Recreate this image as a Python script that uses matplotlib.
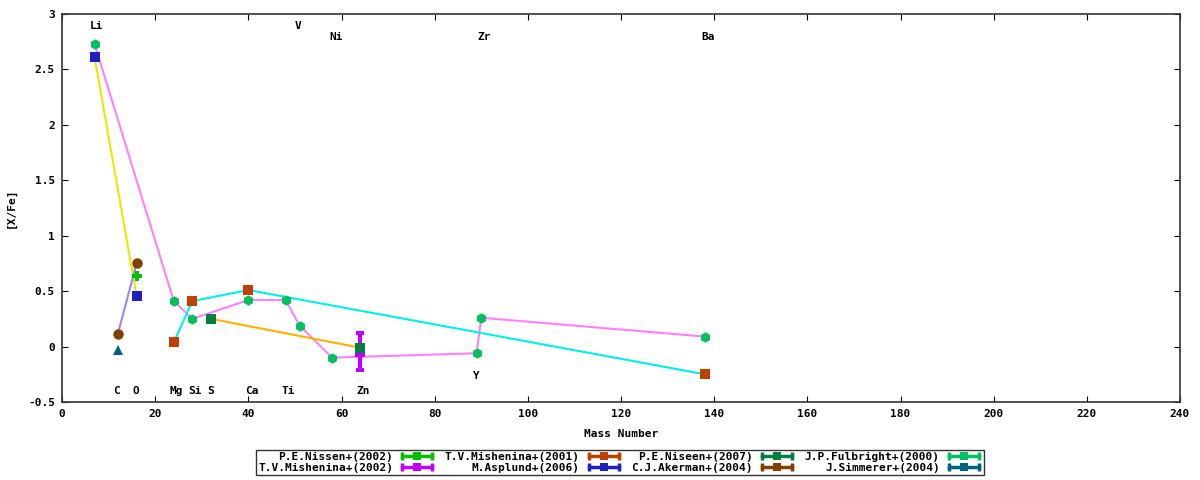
import matplotlib
matplotlib.use("Agg")
import matplotlib.pyplot as plt
from matplotlib.lines import Line2D
from matplotlib.legend_handler import HandlerLine2D, HandlerTuple

# [X/Fe] against mass number, one block per source
nissen02_mass = [16]
nissen02_xfe = [0.64]

mishenina01_mass = [24, 28, 40, 138]
mishenina01_xfe = [0.04, 0.41, 0.51, -0.25]

nissen07_mass = [32, 64]
nissen07_xfe = [0.25, -0.01]

fulbright_mass = [7, 24, 28, 40, 48, 51, 58, 89, 90, 138]
fulbright_xfe = [2.73, 0.41, 0.25, 0.42, 0.42, 0.19, -0.10, -0.06, 0.26, 0.09]

mishenina02_mass = [64]
mishenina02_xfe = [-0.045]
mishenina02_err = [0.165]

asplund_mass = [7, 16]
asplund_xfe = [2.61, 0.46]

akerman_mass = [12, 16]
akerman_xfe = [0.115, 0.75]

simmerer_mass = [12]
simmerer_xfe = [-0.03]

# element names written on the plot
elements = ["Li", "V", "Ni", "Zr", "Ba", "C", "O", "Mg", "Si", "S", "Ca", "Ti", "Zn", "Y"]
elem_x = [7.5, 50.7, 58.8, 90.6, 138.7, 11.8, 15.9, 24.5, 28.5, 32, 40.8, 48.5, 64.6, 88.9]
elem_y = [2.89, 2.89, 2.79, 2.79, 2.79, -0.40, -0.40, -0.40, -0.40, -0.40, -0.40, -0.40, -0.40, -0.265]

font = dict(family="DejaVu Sans Mono", weight="bold", size=8)
plt.rcParams["font.family"] = "DejaVu Sans Mono"
plt.rcParams["font.weight"] = "bold"

fig = plt.figure(figsize=(12, 4.8), dpi=100)
ax = fig.add_axes([62 / 1200, 78 / 480, 1118 / 1200, 388 / 480])

# connecting lines (drawn in their own colours, under the points)
ax.plot(fulbright_mass, fulbright_xfe, color="#ff80ff", lw=1.5, zorder=2)
ax.plot(mishenina01_mass, mishenina01_xfe, color="#00eeee", lw=1.5, zorder=2)
ax.plot(nissen07_mass, nissen07_xfe, color="#ffb000", lw=1.5, zorder=2)
ax.plot(asplund_mass, asplund_xfe, color="#e8e800", lw=1.5, zorder=2)
ax.plot(akerman_mass, akerman_xfe, color="#a080ff", lw=1.5, zorder=2)

ms = 7.5
series = [
    ("P.E.Nissen+(2002)", nissen02_mass, nissen02_xfe, "#00c000", "P", 7),
    ("T.V.Mishenina+(2002)", mishenina02_mass, mishenina02_xfe, "#c000ff", "s", ms),
    ("T.V.Mishenina+(2001)", mishenina01_mass, mishenina01_xfe, "#c04000", "s", ms),
    ("M.Asplund+(2006)", asplund_mass, asplund_xfe, "#2020c0", "s", ms),
    ("P.E.Niseen+(2007)", nissen07_mass, nissen07_xfe, "#008040", "s", ms),
    ("C.J.Akerman+(2004)", akerman_mass, akerman_xfe, "#804000", "o", ms),
    ("J.P.Fulbright+(2000)", fulbright_mass, fulbright_xfe, "#00c060", "h", ms),
    ("J.Simmerer+(2004)", simmerer_mass, simmerer_xfe, "#006080", "^", ms),
]

ax.errorbar(mishenina02_mass, mishenina02_xfe, yerr=mishenina02_err, fmt="none",
            ecolor="#c000ff", elinewidth=3, capsize=3, capthick=3, zorder=3)

handles = []
hmap = {}
for label, xs, ys, col, mk, size in series:
    ax.plot(xs, ys, ls="none", marker=mk, color=col, markersize=size,
            markeredgewidth=0, zorder=4)
    bar = Line2D([], [], color=col, lw=2.5, marker="|", markersize=5.5, markeredgewidth=2.5)
    dot = Line2D([], [], ls="none", marker="s", color=col, markersize=6, markeredgewidth=0)
    hmap[bar] = HandlerLine2D(numpoints=2)
    handles.append((bar, dot))
    hmap[handles[-1]] = HandlerTuple(ndivide=1)

for name, x, y in zip(elements, elem_x, elem_y):
    ax.text(x, y, name, ha="center", va="center", fontdict=font)

ax.set_xlim(0, 240)
ax.set_ylim(-0.5, 3)
ax.set_xticks(range(0, 241, 20))
ax.set_yticks([-0.5, 0, 0.5, 1, 1.5, 2, 2.5, 3])
ax.set_yticklabels(["-0.5", "0", "0.5", "1", "1.5", "2", "2.5", "3"])
ax.tick_params(direction="in", top=True, right=True, length=4, labelsize=8, pad=5)
for sp in ax.spines.values():
    sp.set_linewidth(1.2)
    sp.set_color("#333333")

ax.set_xlabel("Mass Number", fontdict=font, labelpad=7)
ax.set_ylabel("[X/Fe]", fontdict=font, labelpad=9)

leg = fig.legend(handles, [s[0] for s in series], handler_map=hmap, ncol=4,
                 markerfirst=False, loc="center", bbox_to_anchor=(620 / 1200, 17.5 / 480),
                 prop=font, frameon=True, fancybox=False, handlelength=3.3,
                 columnspacing=0.85, handletextpad=0.5, labelspacing=0.12,
                 borderpad=0.2, borderaxespad=0)
leg.get_frame().set_edgecolor("black")
leg.get_frame().set_linewidth(1.0)
for t in leg.get_texts():
    t.set_ha("right")

fig.savefig("out.png", dpi=100)
